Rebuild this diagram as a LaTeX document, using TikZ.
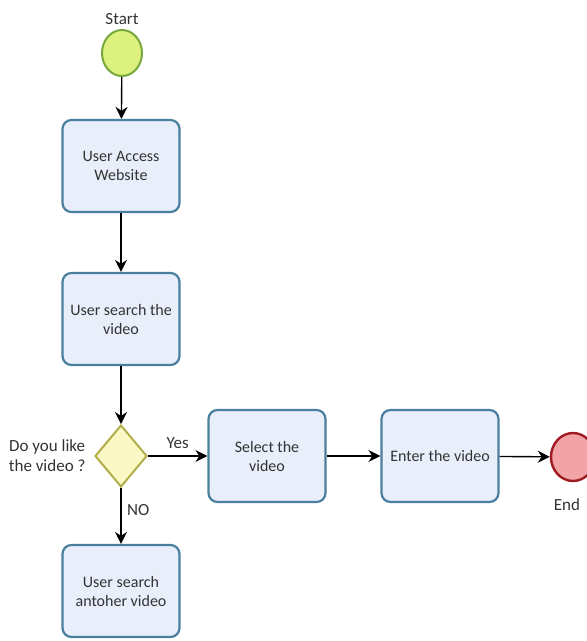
\documentclass[tikz,border=0pt]{standalone}
\usepackage{fontspec}
\setmainfont{Carlito}
\usetikzlibrary{shapes.geometric,arrows.meta}
\definecolor{taskfill}{HTML}{E8EEFA}
\definecolor{taskline}{HTML}{4A7F9E}
\definecolor{startfill}{HTML}{DDF27E}
\definecolor{startline}{HTML}{76A83C}
\definecolor{gatefill}{HTML}{FAF8C4}
\definecolor{gateline}{HTML}{B2AE4C}
\definecolor{endfill}{HTML}{F2A3A5}
\definecolor{endline}{HTML}{A01C22}
\definecolor{textgray}{HTML}{333333}

\begin{document}
\begin{tikzpicture}[x=1pt,y=-1pt,
	task/.style={draw=taskline, fill=taskfill, line width=2.2pt, rounded corners=9pt, minimum width=117pt, minimum height=92pt, align=center, text=textgray, font=\fontsize{16}{19}\selectfont},
	flow/.style={-{Stealth[length=12pt,width=12pt]}, line width=1.4pt},
	lbl/.style={text=textgray, align=center, font=\fontsize{17}{20}\selectfont}]
	\useasboundingbox (0,0) rectangle (587,641);
	%\draw[help lines] (0,0) grid[step=50] (587,641);
	\node (start) [ellipse, draw=startline, fill=startfill, line width=2pt, minimum width=40pt, minimum height=46pt] at (122,53) {};
	\node [lbl, above=1pt] at (start.north) {Start};
	\node (access) [task] at (121,166) {User Access\\Website};
	\node (search) [task] at (121,319) {User search the\\video};
	\node (like) [diamond, draw=gateline, fill=gatefill, line width=2pt, minimum width=52pt, minimum height=62pt, inner sep=0pt] at (121,456) {};
	\node [lbl, left=5pt] at (like.west) {Do you like\\the video ?};
	\node (select) [task] at (267,456) {Select the\\video};
	\node (enter) [task] at (440,456) {Enter the video};
	\node (other) [task] at (121,591) {User search\\antoher video};
	\node (stop) [ellipse, draw=endline, fill=endfill, line width=2.4pt, minimum width=44pt, minimum height=48pt] at (573,457) {};
	\node [lbl] at (567,505) {End};
	\draw[flow] (start) -- (access);
	\draw[flow] (access) -- (search);
	\draw[flow] (search) -- (like);
	\draw[flow] (like) -- node[lbl, above=3pt, pos=0.5] {Yes} (select);
	\draw[flow] (select) -- (enter);
	\draw[flow] (enter) -- (stop);
	\draw[flow] (like) -- node[lbl, right=2pt, pos=0.4] {NO} (other);
\end{tikzpicture}
\end{document}
